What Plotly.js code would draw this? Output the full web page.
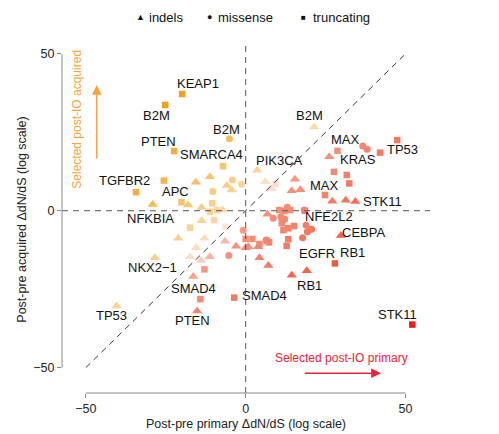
<!DOCTYPE html>
<html><head><meta charset="utf-8">
<script src="https://cdn.plot.ly/plotly-3.0.1.min.js"></script>
<style>html,body{margin:0;padding:0;background:#fff}#chart{width:499px;height:434px}</style>
</head><body><div id="chart"></div>
<script>
// ---- data (Post-pre primary ΔdN/dS, Post-pre acquired ΔdN/dS) ----
const indelX = [-29.1,-18.0,-13.8,-7.2,-15.6,-11.2,-5.9,-4.4,-13.8,-21.1,-12.9,-15.5,-17.4,-28.4,-40.4,
  3.6,6.1,8.1,21.4,26.1,15.4,14.4,17.1,27.1,31.3,34.3,29.8,6.8,-6.5,-3.0,0.0,0.8,3.9,4.3,7.1,14.4,19.1,-11.2,-14.0,-16.4,-15.2];
const indelY = [2.0,1.8,1.0,0.2,9.1,10.8,8.0,6.6,-3.2,-8.8,-8.8,-11.8,-14.7,-15.0,-30.4,
  12.9,9.2,7.1,26.7,17.2,10.0,6.4,6.7,3.0,3.3,2.9,-7.9,-1.1,-9.7,-11.3,-11.8,-11.5,-11.5,-15.0,-17.5,-20.6,-19.1,-14.7,-15.9,-21.0,-32.0];

const missX = [-5.1,-4.2,-1.3,-10.3,36.6,38.0,-0.8,-5.3,13.0,18.3,8.6,11.0,12.2,18.9,19.3,20.6,17.8,6.4];
const missY = [22.9,9.8,8.4,6.1,20.6,19.6,-6.2,-14.3,1.1,0.2,-2.4,-1.9,-2.7,-4.6,-6.7,-5.9,-8.6,-9.3];

const truncX = [-19.9,-25.2,-22.4,-7.1,-34.3,-25.6,-20.1,-10.5,-11.2,-8.9,-17.4,-9.9,-6.3,9.3,-12.9,-14.2,-3.6,
  0.0,2.1,4.3,6.6,7.3,13.3,12.8,27.9,52.1,10.5,11.3,13.3,15.1,18.5,11.8,28.7,42.0,47.4,27.6,31.6,32.4,24.8,12.1,13.9];
const truncY = [37.2,33.7,19.0,14.2,5.9,9.6,2.7,2.4,-0.3,0.2,-5.4,-3.0,-5.1,8.5,-18.7,-28.2,-27.7,
  -9.0,-9.0,-10.6,-9.6,-10.1,-9.1,-11.2,-16.8,-36.3,0.2,-4.0,-5.6,-4.9,0.0,-6.2,19.1,18.5,22.5,12.4,11.4,8.7,5.0,-0.1,0.2];

const geneNames = ['KEAP1','B2M','B2M','PTEN','SMARCA4','TGFBR2','APC','NFKBIA','NKX2\u22121','TP53','SMAD4','PTEN','SMAD4',
  'RB1','EGFR','RB1','CEBPA','NFE2L2','STK11','MAX','KRAS','TP53','MAX','B2M','PIK3CA','STK11'];
const geneX = [-14.8,-27.8,-5.9,-27.3,-10.6,-37.8,-22.1,-29.9,-29.2,-41.9,-16.4,-16.6,5.8,
  20.1,22.2,33.3,37.0,26.2,42.8,24.6,35.2,49.1,31.1,20.1,10.5,47.5];
const geneY = [40.4,30.2,25.9,22.0,17.8,9.6,6.1,-2.4,-18.2,-33.5,-24.7,-35.1,-27.1,
  -23.9,-13.6,-13.3,-6.9,-1.9,2.9,7.9,16.2,19.6,22.8,30.2,15.9,-33.0];

const axisTicks = [-50, 0, 50];
const axisTickText = ['\u221250', '0', '50'];

// ---- layout geometry ----
const W = 499, H = 434, L = 62, R = 430, T = 46, B = 393;
const xRange = [-57.46, 57.65], yRange = [-58.1, 52.5];
const px = p => (p - L) / (R - L);
const py = p => (B - p) / (B - T);

const FONT = 'Liberation Sans, Arial, sans-serif';
const scale = [
  [0, '#ee1b1b'], [0.32, '#f45f44'], [0.45, '#f6806a'], [0.545, '#f8957d'],
  [0.58, '#fde9dc'], [0.62, '#fdd7a6'], [0.71, '#fbc672'], [0.84, '#f7ae3c'], [1, '#f39a10']
];
function pts(xs, ys, symbol, size) {
  return {
    type: 'scatter', mode: 'markers', x: xs, y: ys, showlegend: false, cliponaxis: false, hoverinfo: 'skip',
    marker: { symbol, size, color: xs.map((x, i) => ys[i] - x), cmin: -90, cmax: 65, colorscale: scale, line: { width: 0 } }
  };
}
const traces = [
  pts(indelX, indelY, 'triangle-up', 9),
  pts(missX, missY, 'circle', 7),
  pts(truncX, truncY, 'square', 6.5)
];

const dash = '6px,5px';
const shapes = [
  { type: 'line', xref: 'paper', yref: 'y', x0: 0, x1: 1, y0: 0, y1: 0, line: { color: '#555', width: 1, dash } },
  { type: 'line', xref: 'x', yref: 'paper', x0: 0, x1: 0, y0: 0, y1: 1, line: { color: '#555', width: 1, dash } },
  { type: 'line', xref: 'x', yref: 'y', x0: -50, x1: 50, y0: -50, y1: 50, line: { color: '#333', width: 1, dash } },
  { type: 'line', xref: 'x', yref: 'paper', x0: -50, x1: 50, y0: 0, y1: 0, line: { color: '#888', width: 1 } },
  { type: 'line', xref: 'paper', yref: 'y', x0: 0, x1: 0, y0: -50, y1: 50, line: { color: '#888', width: 1 } }
];

const annotations = geneNames.map((g, i) => ({
  text: g, x: geneX[i], y: geneY[i], xref: 'x', yref: 'y', showarrow: false,
  font: { family: FONT, size: 13, color: '#111' }
}));

// side notes and arrows
const orange = '#f7a43a', red = '#ee2233';
annotations.push(
  { text: 'Selected post-IO acquired', x: -52.8, y: 29.3, xref: 'x', yref: 'y', textangle: -90, showarrow: false,
    font: { family: FONT, size: 12, color: orange } },
  { text: '', x: -46.6, y: 40.1, ax: -46.6, ay: 16.2, xref: 'x', yref: 'y', axref: 'x', ayref: 'y',
    showarrow: true, arrowhead: 2, arrowsize: 1.3, arrowwidth: 1.5, arrowcolor: orange, standoff: 0, startstandoff: 0 },
  { text: 'Selected post-IO primary', x: 30.1, y: -47.1, xref: 'x', yref: 'y', showarrow: false,
    font: { family: FONT, size: 12, color: red } },
  { text: '', x: 42.3, y: -51.8, ax: 18.0, ay: -51.8, xref: 'x', yref: 'y', axref: 'x', ayref: 'y',
    showarrow: true, arrowhead: 2, arrowsize: 1.3, arrowwidth: 1.5, arrowcolor: red, standoff: 0, startstandoff: 0 }
);

// legend (top)
const legY = py(17);
const legend = [
  ['\u25B2', 140, 9, 'center'], ['indels', 147, 13, 'left'],
  ['\u25CF', 209, 9, 'center'], ['missense', 216, 13, 'left'],
  ['\u25A0', 303, 8, 'center'], ['truncating', 311, 13, 'left']
];
legend.forEach(([t, x, s, a]) => annotations.push({
  text: t, x: px(x), y: legY, xref: 'paper', yref: 'paper', xanchor: a, yanchor: 'middle', showarrow: false,
  font: { family: FONT, size: s, color: '#111' }
}));

const layout = {
  width: W, height: H, paper_bgcolor: '#fff', plot_bgcolor: '#fff',
  margin: { l: L, r: W - R, t: T, b: H - B, pad: 0 },
  font: { family: FONT, size: 12.5, color: '#222' },
  showlegend: false,
  xaxis: {
    range: xRange, showgrid: false, zeroline: false, showline: false,
    tickmode: 'array', tickvals: axisTicks, ticktext: axisTickText, ticks: 'outside', ticklen: 4, tickcolor: '#888',
    tickfont: { family: FONT, size: 12.5, color: '#222' },
    title: { text: 'Post-pre primary \u0394dN/dS (log scale)', font: { family: FONT, size: 12.5, color: '#222' }, standoff: 4 },
    automargin: false, fixedrange: true
  },
  yaxis: {
    range: yRange, showgrid: false, zeroline: false, showline: false,
    tickmode: 'array', tickvals: axisTicks, ticktext: axisTickText, ticks: 'outside', ticklen: 4, tickcolor: '#888',
    tickfont: { family: FONT, size: 12.5, color: '#222' },
    title: { text: 'Post-pre acquired \u0394dN/dS (log scale)', font: { family: FONT, size: 12.5, color: '#222' }, standoff: 3 },
    automargin: false, fixedrange: true
  },
  shapes, annotations
};
Plotly.newPlot('chart', traces, layout, { staticPlot: true, displayModeBar: false });
</script>
</body></html>
